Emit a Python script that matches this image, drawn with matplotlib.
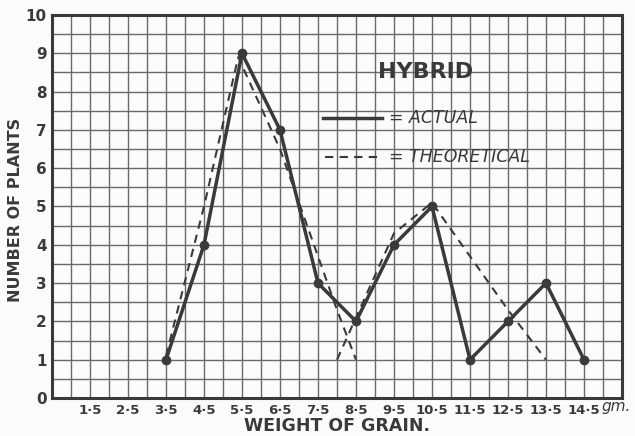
import matplotlib
matplotlib.use("Agg")
import matplotlib.pyplot as plt
import numpy as np

# data
actual_x = [3.5, 4.5, 5.5, 6.5, 7.5, 8.5, 9.5, 10.5, 11.5, 12.5, 13.5, 14.5]
actual_y = [1, 4, 9, 7, 3, 2, 4, 5, 1, 2, 3, 1]
theo1_x = [3.5, 4.5, 5.4, 6.5, 7.5, 8.0, 8.5]
theo1_y = [1.1, 5.0, 8.9, 6.5, 3.7, 2.3, 1.0]
theo2_x = [8.0, 8.5, 9.5, 10.5, 11.5, 12.5, 13.5]
theo2_y = [1.0, 2.1, 4.3, 5.1, 3.7, 2.3, 1.0]
x_ticks = [1.5, 2.5, 3.5, 4.5, 5.5, 6.5, 7.5, 8.5, 9.5, 10.5, 11.5, 12.5, 13.5, 14.5]
x_ticklabels = ["1·5", "2·5", "3·5", "4·5", "5·5", "6·5", "7·5", "8·5", "9·5",
                "10·5", "11·5", "12·5", "13·5", "14·5"]
y_ticks = list(range(0, 11))

ink = "#3a3a3a"
fig = plt.figure(figsize=(6.35, 4.36), dpi=100, facecolor="#fbfbfa")
ax = fig.add_axes([52/635, 1-398/436, (622-52)/635, (398-15)/436])
ax.set_facecolor("#fbfbfa")
ax.set_xlim(0.5, 15.5)
ax.set_ylim(0, 10)

# grid every half unit
for gx in np.arange(1.0, 15.5, 0.5):
    ax.axvline(gx, color="#6a6a6a", lw=1.0, zorder=1)
for gy in np.arange(0.5, 10.0, 0.5):
    ax.axhline(gy, color="#6a6a6a", lw=1.0, zorder=1)
for s in ax.spines.values():
    s.set_color(ink)
    s.set_linewidth(2.2)

ax.plot(theo1_x, theo1_y, color=ink, lw=1.5, ls=(0, (4, 3)), zorder=3)
ax.plot(theo2_x, theo2_y, color=ink, lw=1.5, ls=(0, (4, 3)), zorder=3)
ax.plot(actual_x, actual_y, color=ink, lw=2.5, marker="o", ms=6, zorder=4)

ax.set_xticks(x_ticks)
ax.set_xticklabels(x_ticklabels, fontsize=9.5, fontweight="bold", color=ink)
ax.set_yticks(y_ticks)
ax.set_yticklabels([str(v) for v in y_ticks], fontsize=11, fontweight="bold", color=ink)
ax.tick_params(length=0, pad=4)
ax.tick_params(axis="y", pad=4)

ax.set_ylabel("NUMBER OF PLANTS", fontsize=11.5, fontweight="bold", color=ink)
ax.yaxis.set_label_coords(-0.05, 0.49)
ax.set_xlabel("WEIGHT OF GRAIN.", fontsize=12.5, fontweight="bold", color=ink, labelpad=0)
ax.text(14.95, -0.22, "gm.", fontsize=11, style="italic", color=ink, ha="left", va="center",
        transform=ax.transData, clip_on=False)

# legend
ax.text(10.33, 8.5, "HYBRID", fontsize=16, fontweight="bold", color=ink, ha="center", va="center")
ax.plot([7.63, 9.18], [7.31, 7.31], color=ink, lw=2.5, zorder=4)
ax.text(9.38, 7.31, "= ACTUAL", fontsize=12.5, style="italic", color=ink, ha="left", va="center")
ax.plot([7.68, 9.2], [6.29, 6.29], color=ink, lw=1.5, ls=(0, (4, 3)), zorder=4)
ax.text(9.38, 6.29, "= THEORETICAL", fontsize=12.5, style="italic", color=ink, ha="left", va="center")

fig.savefig("out.png", dpi=100, facecolor=fig.get_facecolor())
